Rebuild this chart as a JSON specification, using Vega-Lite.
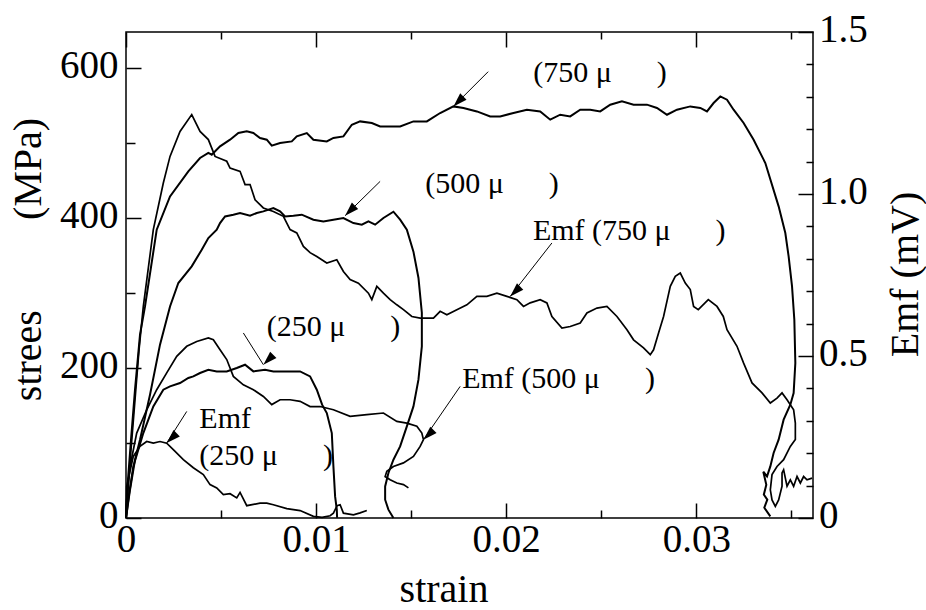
{
"$schema": "https://vega.github.io/schema/vega-lite/v6.json",
"width": 687, "height": 486,
"autosize": {"type": "none"},
"padding": {"left": 126, "top": 32, "right": 113, "bottom": 92},
"background": "white",
"config": {
  "view": {"stroke": "black", "strokeWidth": 1.5},
  "font": "Liberation Serif",
  "axis": {"labelFont": "Liberation Serif", "titleFont": "Liberation Serif", "labelFontSize": 39, "titleFontSize": 40, "labelColor": "black", "titleColor": "black", "titleFontWeight": "normal", "domain": false, "tickColor": "black", "tickWidth": 1.5, "grid": false, "labelOverlap": false, "labelFlush": false, "labelBound": false}
},
"datasets": {
"stress": [
{"s":"S750","i":0,"x":0,"y":0},{"s":"S750","i":1,"x":0.000105,"y":51.1},{"s":"S750","i":2,"x":0.000263,"y":104.4},{"s":"S750","i":3,"x":0.000474,"y":171.1},{"s":"S750","i":4,"x":0.000737,"y":244.4},{"s":"S750","i":5,"x":0.001,"y":282.1},{"s":"S750","i":6,"x":0.001616,"y":384.4},{"s":"S750","i":7,"x":0.002316,"y":428.8},{"s":"S750","i":8,"x":0.003279,"y":462.1},{"s":"S750","i":9,"x":0.003895,"y":480},{"s":"S750","i":10,"x":0.004332,"y":486.7},{"s":"S750","i":11,"x":0.004511,"y":484.4},{"s":"S750","i":12,"x":0.004947,"y":495.5},{"s":"S750","i":13,"x":0.005474,"y":504.4},{"s":"S750","i":14,"x":0.005911,"y":513.3},{"s":"S750","i":15,"x":0.006353,"y":515.5},{"s":"S750","i":16,"x":0.0067,"y":513.3},{"s":"S750","i":17,"x":0.007053,"y":506.7},{"s":"S750","i":18,"x":0.007405,"y":504.4},{"s":"S750","i":19,"x":0.007668,"y":496.4},{"s":"S750","i":20,"x":0.008105,"y":500},{"s":"S750","i":21,"x":0.008721,"y":502.1},{"s":"S750","i":22,"x":0.008984,"y":508.8},{"s":"S750","i":23,"x":0.009511,"y":513.3},{"s":"S750","i":24,"x":0.009858,"y":504.4},{"s":"S750","i":25,"x":0.010563,"y":502.1},{"s":"S750","i":26,"x":0.010911,"y":506.7},{"s":"S750","i":27,"x":0.011437,"y":508.8},{"s":"S750","i":28,"x":0.011879,"y":524.4},{"s":"S750","i":29,"x":0.012316,"y":528.8},{"s":"S750","i":30,"x":0.012932,"y":526.7},{"s":"S750","i":31,"x":0.013368,"y":522.1},{"s":"S750","i":32,"x":0.014421,"y":522.1},{"s":"S750","i":33,"x":0.015121,"y":528.8},{"s":"S750","i":34,"x":0.015826,"y":528.8},{"s":"S750","i":35,"x":0.016526,"y":540},{"s":"S750","i":36,"x":0.017226,"y":548.8},{"s":"S750","i":37,"x":0.017753,"y":546.7},{"s":"S750","i":38,"x":0.018458,"y":542.1},{"s":"S750","i":39,"x":0.019158,"y":535.5},{"s":"S750","i":40,"x":0.019684,"y":535.5},{"s":"S750","i":41,"x":0.020384,"y":540},{"s":"S750","i":42,"x":0.021089,"y":544.4},{"s":"S750","i":43,"x":0.021789,"y":542.1},{"s":"S750","i":44,"x":0.022316,"y":531.1},{"s":"S750","i":45,"x":0.022842,"y":537.7},{"s":"S750","i":46,"x":0.023368,"y":535.5},{"s":"S750","i":47,"x":0.023895,"y":544.4},{"s":"S750","i":48,"x":0.024421,"y":544.4},{"s":"S750","i":49,"x":0.024947,"y":542.1},{"s":"S750","i":50,"x":0.025474,"y":551.1},{"s":"S750","i":51,"x":0.026089,"y":555.5},{"s":"S750","i":52,"x":0.0267,"y":551.1},{"s":"S750","i":53,"x":0.027405,"y":551.1},{"s":"S750","i":54,"x":0.027932,"y":546.7},{"s":"S750","i":55,"x":0.028458,"y":537.7},{"s":"S750","i":56,"x":0.028984,"y":544.4},{"s":"S750","i":57,"x":0.029684,"y":548.8},{"s":"S750","i":58,"x":0.030211,"y":546.7},{"s":"S750","i":59,"x":0.030563,"y":542.1},{"s":"S750","i":60,"x":0.030911,"y":553.3},{"s":"S750","i":61,"x":0.031263,"y":562.1},{"s":"S750","i":62,"x":0.031616,"y":557.7},{"s":"S750","i":63,"x":0.031963,"y":544.4},{"s":"S750","i":64,"x":0.03249,"y":526.7},{"s":"S750","i":65,"x":0.033016,"y":504.4},{"s":"S750","i":66,"x":0.033632,"y":473.3},{"s":"S750","i":67,"x":0.034332,"y":415.5},{"s":"S750","i":68,"x":0.034684,"y":380},{"s":"S750","i":69,"x":0.034858,"y":348.8},{"s":"S750","i":70,"x":0.035037,"y":308.8},{"s":"S750","i":71,"x":0.035158,"y":264.4},{"s":"S750","i":72,"x":0.035211,"y":206.7},{"s":"S750","i":73,"x":0.035121,"y":166.7},{"s":"S750","i":74,"x":0.034947,"y":151.1},{"s":"S750","i":75,"x":0.034595,"y":131.1},{"s":"S750","i":76,"x":0.034332,"y":104.4},{"s":"S750","i":77,"x":0.034068,"y":86.7},{"s":"S750","i":78,"x":0.033895,"y":68.8},{"s":"S750","i":79,"x":0.033721,"y":55.5},{"s":"S750","i":80,"x":0.033526,"y":61.7},{"s":"S750","i":81,"x":0.033684,"y":44.4},{"s":"S750","i":82,"x":0.033553,"y":31.1},{"s":"S750","i":83,"x":0.033737,"y":24.4},{"s":"S750","i":84,"x":0.033579,"y":13.7},{"s":"S750","i":85,"x":0.033895,"y":2.1},
{"s":"S500","i":0,"x":0,"y":0},{"s":"S500","i":1,"x":0.000211,"y":37.7},{"s":"S500","i":2,"x":0.000474,"y":77.7},{"s":"S500","i":3,"x":0.000737,"y":104.4},{"s":"S500","i":4,"x":0.001263,"y":164.4},{"s":"S500","i":5,"x":0.001789,"y":231.1},{"s":"S500","i":6,"x":0.002316,"y":282.1},{"s":"S500","i":7,"x":0.002753,"y":313.3},{"s":"S500","i":8,"x":0.003458,"y":335.5},{"s":"S500","i":9,"x":0.003984,"y":357.7},{"s":"S500","i":10,"x":0.004332,"y":373.3},{"s":"S500","i":11,"x":0.004774,"y":384.4},{"s":"S500","i":12,"x":0.004947,"y":393.3},{"s":"S500","i":13,"x":0.005211,"y":402.1},{"s":"S500","i":14,"x":0.005647,"y":404.4},{"s":"S500","i":15,"x":0.006,"y":406.7},{"s":"S500","i":16,"x":0.006526,"y":403.1},{"s":"S500","i":17,"x":0.006879,"y":406.7},{"s":"S500","i":18,"x":0.007226,"y":408.8},{"s":"S500","i":19,"x":0.007753,"y":413.3},{"s":"S500","i":20,"x":0.008105,"y":408.8},{"s":"S500","i":21,"x":0.008368,"y":402.1},{"s":"S500","i":22,"x":0.008805,"y":403.1},{"s":"S500","i":23,"x":0.009247,"y":404.4},{"s":"S500","i":24,"x":0.009858,"y":397.7},{"s":"S500","i":25,"x":0.010384,"y":395.5},{"s":"S500","i":26,"x":0.010911,"y":397.7},{"s":"S500","i":27,"x":0.011437,"y":400},{"s":"S500","i":28,"x":0.011963,"y":393.3},{"s":"S500","i":29,"x":0.012405,"y":391.1},{"s":"S500","i":30,"x":0.012753,"y":395.5},{"s":"S500","i":31,"x":0.013105,"y":391.1},{"s":"S500","i":32,"x":0.013542,"y":400},{"s":"S500","i":33,"x":0.014068,"y":408.4},{"s":"S500","i":34,"x":0.014421,"y":397.7},{"s":"S500","i":35,"x":0.014774,"y":384.4},{"s":"S500","i":36,"x":0.015121,"y":355.1},{"s":"S500","i":37,"x":0.015384,"y":320.4},{"s":"S500","i":38,"x":0.015563,"y":273.7},{"s":"S500","i":39,"x":0.015563,"y":228.8},{"s":"S500","i":40,"x":0.015384,"y":184.4},{"s":"S500","i":41,"x":0.015121,"y":148.8},{"s":"S500","i":42,"x":0.014774,"y":122.1},{"s":"S500","i":43,"x":0.014421,"y":95.5},{"s":"S500","i":44,"x":0.014068,"y":77.7},{"s":"S500","i":45,"x":0.013805,"y":60},{"s":"S500","i":46,"x":0.013632,"y":42.1},{"s":"S500","i":47,"x":0.013632,"y":24.4},{"s":"S500","i":48,"x":0.013805,"y":11.1},{"s":"S500","i":49,"x":0.014068,"y":0},
{"s":"S250","i":0,"x":0,"y":0},{"s":"S250","i":1,"x":0.000158,"y":31.1},{"s":"S250","i":2,"x":0.000384,"y":68.8},{"s":"S250","i":3,"x":0.000911,"y":113.3},{"s":"S250","i":4,"x":0.001437,"y":148.8},{"s":"S250","i":5,"x":0.001963,"y":171.1},{"s":"S250","i":6,"x":0.002316,"y":175.5},{"s":"S250","i":7,"x":0.002842,"y":180},{"s":"S250","i":8,"x":0.003279,"y":186.7},{"s":"S250","i":9,"x":0.003542,"y":188.8},{"s":"S250","i":10,"x":0.003895,"y":193.3},{"s":"S250","i":11,"x":0.004332,"y":197.7},{"s":"S250","i":12,"x":0.004774,"y":195.5},{"s":"S250","i":13,"x":0.0053,"y":195.5},{"s":"S250","i":14,"x":0.005826,"y":200},{"s":"S250","i":15,"x":0.006263,"y":204.4},{"s":"S250","i":16,"x":0.0067,"y":195.5},{"s":"S250","i":17,"x":0.007316,"y":197.7},{"s":"S250","i":18,"x":0.007753,"y":195.5},{"s":"S250","i":19,"x":0.008458,"y":195.5},{"s":"S250","i":20,"x":0.009158,"y":195.5},{"s":"S250","i":21,"x":0.009684,"y":188.8},{"s":"S250","i":22,"x":0.010037,"y":171.1},{"s":"S250","i":23,"x":0.010316,"y":151.1},{"s":"S250","i":24,"x":0.010563,"y":140},{"s":"S250","i":25,"x":0.010826,"y":113.3},{"s":"S250","i":26,"x":0.010911,"y":68.8},{"s":"S250","i":27,"x":0.011,"y":28.8},{"s":"S250","i":28,"x":0.011089,"y":11.1},{"s":"S250","i":29,"x":0.011105,"y":0.4}
],
"emf": [
{"s":"E750","i":0,"x":0,"y":0},{"s":"E750","i":1,"x":0.000105,"y":0.087},{"s":"E750","i":2,"x":0.000263,"y":0.211},{"s":"E750","i":3,"x":0.000474,"y":0.365},{"s":"E750","i":4,"x":0.000684,"y":0.519},{"s":"E750","i":5,"x":0.000911,"y":0.653},{"s":"E750","i":6,"x":0.001437,"y":0.89},{"s":"E750","i":7,"x":0.001963,"y":1.034},{"s":"E750","i":8,"x":0.002316,"y":1.116},{"s":"E750","i":9,"x":0.002842,"y":1.193},{"s":"E750","i":10,"x":0.003458,"y":1.245},{"s":"E750","i":11,"x":0.003895,"y":1.193},{"s":"E750","i":12,"x":0.004332,"y":1.168},{"s":"E750","i":13,"x":0.004684,"y":1.116},{"s":"E750","i":14,"x":0.0053,"y":1.101},{"s":"E750","i":15,"x":0.005474,"y":1.08},{"s":"E750","i":16,"x":0.006,"y":1.07},{"s":"E750","i":17,"x":0.006263,"y":1.029},{"s":"E750","i":18,"x":0.006526,"y":1.029},{"s":"E750","i":19,"x":0.006789,"y":0.982},{"s":"E750","i":20,"x":0.007226,"y":0.957},{"s":"E750","i":21,"x":0.007753,"y":0.946},{"s":"E750","i":22,"x":0.008279,"y":0.931},{"s":"E750","i":23,"x":0.008632,"y":0.89},{"s":"E750","i":24,"x":0.008984,"y":0.88},{"s":"E750","i":25,"x":0.009332,"y":0.838},{"s":"E750","i":26,"x":0.009684,"y":0.819},{"s":"E750","i":27,"x":0.010037,"y":0.807},{"s":"E750","i":28,"x":0.010563,"y":0.787},{"s":"E750","i":29,"x":0.011089,"y":0.797},{"s":"E750","i":30,"x":0.011437,"y":0.761},{"s":"E750","i":31,"x":0.011789,"y":0.736},{"s":"E750","i":32,"x":0.012226,"y":0.725},{"s":"E750","i":33,"x":0.012753,"y":0.694},{"s":"E750","i":34,"x":0.012932,"y":0.674},{"s":"E750","i":35,"x":0.013195,"y":0.715},{"s":"E750","i":36,"x":0.013542,"y":0.694},{"s":"E750","i":37,"x":0.013895,"y":0.674},{"s":"E750","i":38,"x":0.014247,"y":0.658},{"s":"E750","i":39,"x":0.014595,"y":0.643},{"s":"E750","i":40,"x":0.015037,"y":0.622},{"s":"E750","i":41,"x":0.015474,"y":0.617},{"s":"E750","i":42,"x":0.016174,"y":0.617},{"s":"E750","i":43,"x":0.016526,"y":0.638},{"s":"E750","i":44,"x":0.016879,"y":0.627},{"s":"E750","i":45,"x":0.017405,"y":0.643},{"s":"E750","i":46,"x":0.017932,"y":0.658},{"s":"E750","i":47,"x":0.018458,"y":0.684},{"s":"E750","i":48,"x":0.018984,"y":0.684},{"s":"E750","i":49,"x":0.019511,"y":0.694},{"s":"E750","i":50,"x":0.020037,"y":0.684},{"s":"E750","i":51,"x":0.020563,"y":0.674},{"s":"E750","i":52,"x":0.020911,"y":0.653},{"s":"E750","i":53,"x":0.021263,"y":0.664},{"s":"E750","i":54,"x":0.021789,"y":0.674},{"s":"E750","i":55,"x":0.022142,"y":0.664},{"s":"E750","i":56,"x":0.022405,"y":0.622},{"s":"E750","i":57,"x":0.022932,"y":0.586},{"s":"E750","i":58,"x":0.023368,"y":0.591},{"s":"E750","i":59,"x":0.023895,"y":0.602},{"s":"E750","i":60,"x":0.024247,"y":0.633},{"s":"E750","i":61,"x":0.024774,"y":0.648},{"s":"E750","i":62,"x":0.0253,"y":0.653},{"s":"E750","i":63,"x":0.025826,"y":0.622},{"s":"E750","i":64,"x":0.026353,"y":0.581},{"s":"E750","i":65,"x":0.0267,"y":0.55},{"s":"E750","i":66,"x":0.027226,"y":0.525},{"s":"E750","i":67,"x":0.027579,"y":0.504},{"s":"E750","i":68,"x":0.027753,"y":0.519},{"s":"E750","i":69,"x":0.028016,"y":0.571},{"s":"E750","i":70,"x":0.028279,"y":0.622},{"s":"E750","i":71,"x":0.028632,"y":0.715},{"s":"E750","i":72,"x":0.028895,"y":0.746},{"s":"E750","i":73,"x":0.029158,"y":0.756},{"s":"E750","i":74,"x":0.029421,"y":0.725},{"s":"E750","i":75,"x":0.029684,"y":0.705},{"s":"E750","i":76,"x":0.029858,"y":0.653},{"s":"E750","i":77,"x":0.030105,"y":0.643},{"s":"E750","i":78,"x":0.030632,"y":0.674},{"s":"E750","i":79,"x":0.031089,"y":0.653},{"s":"E750","i":80,"x":0.031421,"y":0.622},{"s":"E750","i":81,"x":0.031616,"y":0.581},{"s":"E750","i":82,"x":0.032142,"y":0.53},{"s":"E750","i":83,"x":0.03249,"y":0.478},{"s":"E750","i":84,"x":0.032932,"y":0.417},{"s":"E750","i":85,"x":0.033458,"y":0.386},{"s":"E750","i":86,"x":0.033895,"y":0.355},{"s":"E750","i":87,"x":0.034247,"y":0.37},{"s":"E750","i":88,"x":0.034511,"y":0.386},{"s":"E750","i":89,"x":0.034774,"y":0.365},{"s":"E750","i":90,"x":0.035121,"y":0.334},{"s":"E750","i":91,"x":0.035211,"y":0.293},{"s":"E750","i":92,"x":0.035211,"y":0.242},{"s":"E750","i":93,"x":0.034947,"y":0.221},{"s":"E750","i":94,"x":0.034595,"y":0.18},{"s":"E750","i":95,"x":0.034247,"y":0.159},{"s":"E750","i":96,"x":0.033984,"y":0.134},{"s":"E750","i":97,"x":0.033895,"y":0.087},{"s":"E750","i":98,"x":0.033984,"y":0.056},{"s":"E750","i":99,"x":0.034158,"y":0.036},{"s":"E750","i":100,"x":0.034332,"y":0.056},{"s":"E750","i":101,"x":0.034511,"y":0.098},{"s":"E750","i":102,"x":0.034511,"y":0.139},{"s":"E750","i":103,"x":0.034595,"y":0.149},{"s":"E750","i":104,"x":0.034774,"y":0.098},{"s":"E750","i":105,"x":0.034947,"y":0.118},{"s":"E750","i":106,"x":0.035121,"y":0.098},{"s":"E750","i":107,"x":0.0353,"y":0.128},{"s":"E750","i":108,"x":0.035474,"y":0.108},{"s":"E750","i":109,"x":0.035647,"y":0.128},{"s":"E750","i":110,"x":0.035826,"y":0.118},{"s":"E750","i":111,"x":0.036089,"y":0.123},
{"s":"E500","i":0,"x":0,"y":0},{"s":"E500","i":1,"x":0.000037,"y":0.056},{"s":"E500","i":2,"x":0.000211,"y":0.159},{"s":"E500","i":3,"x":0.000563,"y":0.262},{"s":"E500","i":4,"x":0.001089,"y":0.334},{"s":"E500","i":5,"x":0.001616,"y":0.396},{"s":"E500","i":6,"x":0.002142,"y":0.448},{"s":"E500","i":7,"x":0.002668,"y":0.499},{"s":"E500","i":8,"x":0.003195,"y":0.53},{"s":"E500","i":9,"x":0.003721,"y":0.545},{"s":"E500","i":10,"x":0.004332,"y":0.556},{"s":"E500","i":11,"x":0.004595,"y":0.55},{"s":"E500","i":12,"x":0.004947,"y":0.519},{"s":"E500","i":13,"x":0.0053,"y":0.489},{"s":"E500","i":14,"x":0.005647,"y":0.437},{"s":"E500","i":15,"x":0.006174,"y":0.411},{"s":"E500","i":16,"x":0.0067,"y":0.396},{"s":"E500","i":17,"x":0.007226,"y":0.375},{"s":"E500","i":18,"x":0.007668,"y":0.35},{"s":"E500","i":19,"x":0.008105,"y":0.365},{"s":"E500","i":20,"x":0.008632,"y":0.365},{"s":"E500","i":21,"x":0.009158,"y":0.36},{"s":"E500","i":22,"x":0.009684,"y":0.344},{"s":"E500","i":23,"x":0.010211,"y":0.344},{"s":"E500","i":24,"x":0.010911,"y":0.334},{"s":"E500","i":25,"x":0.011789,"y":0.314},{"s":"E500","i":26,"x":0.012668,"y":0.319},{"s":"E500","i":27,"x":0.013542,"y":0.324},{"s":"E500","i":28,"x":0.014247,"y":0.298},{"s":"E500","i":29,"x":0.014774,"y":0.293},{"s":"E500","i":30,"x":0.0153,"y":0.283},{"s":"E500","i":31,"x":0.015563,"y":0.262},{"s":"E500","i":32,"x":0.015647,"y":0.242},{"s":"E500","i":33,"x":0.015474,"y":0.221},{"s":"E500","i":34,"x":0.015121,"y":0.19},{"s":"E500","i":35,"x":0.014595,"y":0.17},{"s":"E500","i":36,"x":0.014068,"y":0.159},{"s":"E500","i":37,"x":0.013721,"y":0.144},{"s":"E500","i":38,"x":0.013632,"y":0.128},{"s":"E500","i":39,"x":0.013895,"y":0.118},{"s":"E500","i":40,"x":0.014247,"y":0.108},{"s":"E500","i":41,"x":0.014595,"y":0.103},{"s":"E500","i":42,"x":0.014858,"y":0.093},
{"s":"E250","i":0,"x":0,"y":0},{"s":"E250","i":1,"x":0.000037,"y":0.098},{"s":"E250","i":2,"x":0.000384,"y":0.19},{"s":"E250","i":3,"x":0.000737,"y":0.221},{"s":"E250","i":4,"x":0.001089,"y":0.236},{"s":"E250","i":5,"x":0.001437,"y":0.231},{"s":"E250","i":6,"x":0.001789,"y":0.236},{"s":"E250","i":7,"x":0.002142,"y":0.231},{"s":"E250","i":8,"x":0.002489,"y":0.211},{"s":"E250","i":9,"x":0.003016,"y":0.18},{"s":"E250","i":10,"x":0.003542,"y":0.155},{"s":"E250","i":11,"x":0.004068,"y":0.134},{"s":"E250","i":12,"x":0.004421,"y":0.103},{"s":"E250","i":13,"x":0.004774,"y":0.093},{"s":"E250","i":14,"x":0.005121,"y":0.072},{"s":"E250","i":15,"x":0.005474,"y":0.075},{"s":"E250","i":16,"x":0.005826,"y":0.062},{"s":"E250","i":17,"x":0.006,"y":0.079},{"s":"E250","i":18,"x":0.006353,"y":0.038},{"s":"E250","i":19,"x":0.007053,"y":0.046},{"s":"E250","i":20,"x":0.007405,"y":0.046},{"s":"E250","i":21,"x":0.007753,"y":0.041},{"s":"E250","i":22,"x":0.008458,"y":0.029},{"s":"E250","i":23,"x":0.009158,"y":0.023},{"s":"E250","i":24,"x":0.009858,"y":0.005},{"s":"E250","i":25,"x":0.010316,"y":0.002},{"s":"E250","i":26,"x":0.010737,"y":0.007},{"s":"E250","i":27,"x":0.010911,"y":0.015},{"s":"E250","i":28,"x":0.011105,"y":0.038},{"s":"E250","i":29,"x":0.011263,"y":0.041},{"s":"E250","i":30,"x":0.011437,"y":0.015},{"s":"E250","i":31,"x":0.011963,"y":0.01},{"s":"E250","i":32,"x":0.012316,"y":0.016},{"s":"E250","i":33,"x":0.012668,"y":0.023}
],
"arrows": [
{"id":"a1","x":0.019053,"y":595.1,"x2":0.017226,"y2":548.8},
{"id":"a2","x":0.013368,"y":448.8,"x2":0.011526,"y2":403.1},
{"id":"a3","x":0.022405,"y":366.7,"x2":0.020211,"y2":295.5},
{"id":"a4","x":0.006174,"y":246.7,"x2":0.007226,"y2":204.4},
{"id":"a5","x":0.003195,"y":142.1,"x2":0.002142,"y2":100},
{"id":"a6","x":0.017579,"y":175.5,"x2":0.015647,"y2":104.4}
],
"labels": [
{"t":"(750 μ\u00a0\u00a0\u00a0\u00a0\u00a0\u00a0)","x":0.021421,"y":581.7},
{"t":"(500 μ\u00a0\u00a0\u00a0\u00a0\u00a0\u00a0)","x":0.015737,"y":433.7},
{"t":"Emf (750 μ\u00a0\u00a0\u00a0\u00a0\u00a0\u00a0)","x":0.021405,"y":371.1},
{"t":"(250 μ\u00a0\u00a0\u00a0\u00a0\u00a0\u00a0)","x":0.007405,"y":242.1},
{"t":"Emf","x":0.003858,"y":120.4},
{"t":"(250 μ\u00a0\u00a0\u00a0\u00a0\u00a0\u00a0)","x":0.003858,"y":71.1},
{"t":"Emf (500 μ\u00a0\u00a0\u00a0\u00a0\u00a0\u00a0)","x":0.017684,"y":173.7}
]
},
"layer": [
{
"layer": [
{
"data": {"name": "stress"},
"mark": {"type": "line", "color": "black", "strokeWidth": 2, "interpolate": "linear"},
"encoding": {
"x": {"field": "x", "type": "quantitative", "scale": {"domain": [0, 0.03614], "nice": false, "zero": false},
  "axis": {"orient": "bottom", "values": [0, 0.01, 0.02, 0.03], "offset": -15, "tickSize": 15,
    "labelExpr": "datum.value==0 ? '0' : format(datum.value,'.2f')",
    "labelBaseline": "alphabetic", "labelAlign": "center", "labelPadding": 33.7,
    "title": "strain", "titleX": 317.5, "titleY": 98, "titleBaseline": "alphabetic", "titleAlign": "center", "titleAngle": 0}},
"y": {"field": "y", "type": "quantitative", "scale": {"domain": [0, 648], "nice": false, "zero": false},
  "axis": {"orient": "left", "values": [0, 200, 400, 600], "offset": -15, "tickSize": 15,
    "labelPadding": 8, "labelBaseline": "middle", "labelAlign": "right", "labelOffset": -3,
    "title": "strees\u00a0\u00a0\u00a0\u00a0\u00a0\u00a0\u00a0\u00a0\u00a0(MPa)", "titleX": -101, "titleY": 227, "titleAngle": -90, "titleBaseline": "alphabetic", "titleAlign": "center"}},
"detail": {"field": "s", "type": "nominal"},
"order": {"field": "i", "type": "quantitative"}
}
},
{
"data": {"name": "arrows"},
"mark": {"type": "rule", "color": "black", "strokeWidth": 1},
"encoding": {
"x": {"field": "x", "type": "quantitative"},
"y": {"field": "y", "type": "quantitative"},
"x2": {"field": "x2"},
"y2": {"field": "y2"}
}
},
{
"data": {"name": "arrows"},
"mark": {"type": "point", "shape": "M0,0L0.32,1L-0.32,1Z", "filled": true, "size": 784, "color": "black", "opacity": 1, "strokeWidth": 0},
"encoding": {
"x": {"field": "x2", "type": "quantitative"},
"y": {"field": "y2", "type": "quantitative"},
"angle": {"field": "id", "type": "nominal", "scale": {"domain": ["a1","a2","a3","a4","a5","a6"], "range": [225, 225.6, 218, 147.7, 212.3, 214.5]}, "legend": null}
}
},
{
"data": {"name": "labels"},
"mark": {"type": "text", "align": "left", "baseline": "alphabetic", "font": "Liberation Serif", "fontSize": 30, "color": "black"},
"encoding": {
"x": {"field": "x", "type": "quantitative"},
"y": {"field": "y", "type": "quantitative"},
"text": {"field": "t"}
}
}
]
},
{
"data": {"name": "stress"},
"mark": {"type": "point", "opacity": 0, "size": 1},
"encoding": {
"x": {"field": "x", "type": "quantitative", "scale": {"domain": [0, 0.03614], "nice": false, "zero": false},
  "axis": {"orient": "bottom", "values": [0.005, 0.015, 0.025, 0.035], "offset": -8, "tickSize": 8, "labels": false, "title": null}},
"y": {"field": "y", "type": "quantitative", "scale": {"domain": [0, 648], "nice": false, "zero": false},
  "axis": {"orient": "left", "values": [100, 300, 500], "offset": -9, "tickSize": 9, "labels": false, "title": null}}
}
},
{
"data": {"name": "emf"},
"mark": {"type": "line", "color": "black", "strokeWidth": 1.7, "interpolate": "linear"},
"encoding": {
"x": {"field": "x", "type": "quantitative", "scale": {"domain": [0, 0.03614], "nice": false, "zero": false},
  "axis": {"orient": "top", "values": [0, 0.01, 0.02, 0.03], "offset": -15, "tickSize": 15, "labels": false, "title": null}},
"y": {"field": "y", "type": "quantitative", "scale": {"domain": [0, 1.5], "nice": false, "zero": false},
  "axis": {"orient": "right", "values": [0, 0.5, 1.0, 1.5], "offset": -15, "tickSize": 15,
    "labelExpr": "datum.value==0 ? '0' : format(datum.value,'.1f')",
    "labelPadding": 5.5, "labelBaseline": "middle", "labelAlign": "left", "labelOffset": -3,
    "title": "Emf (mV)", "titleX": 119, "titleY": 242, "titleAngle": -90, "titleBaseline": "alphabetic", "titleAlign": "center"}},
"detail": {"field": "s", "type": "nominal"},
"order": {"field": "i", "type": "quantitative"}
}
},
{
"data": {"name": "emf"},
"mark": {"type": "point", "opacity": 0, "size": 1},
"encoding": {
"x": {"field": "x", "type": "quantitative", "scale": {"domain": [0, 0.03614], "nice": false, "zero": false},
  "axis": {"orient": "top", "values": [0.005, 0.015, 0.025, 0.035], "offset": -7, "tickSize": 7, "labels": false, "title": null}},
"y": {"field": "y", "type": "quantitative", "scale": {"domain": [0, 1.5], "nice": false, "zero": false},
  "axis": {"orient": "right", "values": [0.1, 0.2, 0.3, 0.4, 0.6, 0.7, 0.8, 0.9, 1.1, 1.2, 1.3, 1.4], "offset": -7, "tickSize": 7, "labels": false, "title": null}}
}
}
],
"resolve": {"scale": {"y": "independent"}, "axis": {"x": "independent", "y": "independent"}}
}
